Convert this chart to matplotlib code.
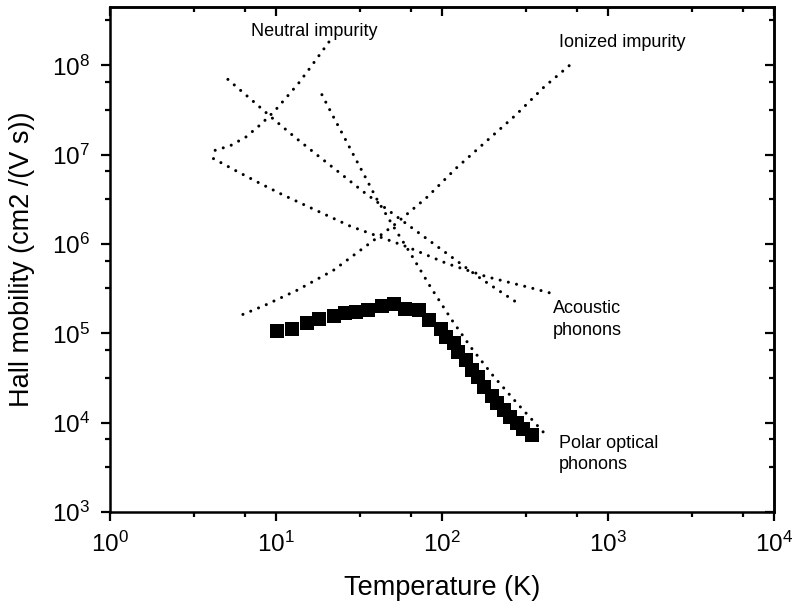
import numpy as np
import matplotlib
matplotlib.use("Agg")
from matplotlib import pyplot as plt
from matplotlib.ticker import LogLocator, NullFormatter

plt.rcParams['font.family'] = ['Liberation Sans', 'DejaVu Sans']

# measured Hall mobility
temp = [10.1, 12.5, 15.4, 18.1, 22.5, 26.2, 30.5, 35.9, 43.6, 51.2,
        60.2, 72.4, 83.3, 98, 105, 118, 124, 139, 151, 164,
        179, 199, 213, 236, 257, 281, 309, 350]
mob = [1.07e5, 1.11e5, 1.29e5, 1.43e5, 1.56e5, 1.67e5, 1.74e5, 1.82e5, 2.02e5, 2.12e5,
       1.85e5, 1.82e5, 1.41e5, 1.13e5, 9.0e4, 7.7e4, 6.2e4, 5.0e4, 3.9e4, 3.26e4,
       2.48e4, 2.0e4, 1.64e4, 1.38e4, 1.16e4, 9.97e3, 8.6e3, 7.3e3]

# scattering-limited components (dotted curves)
neutral_T = [4.30, 5.30, 6.59, 8.11, 9.89, 11.7, 13.7, 15.9, 21.2]
neutral_mu = [1.12e7, 1.26e7, 1.58e7, 2.19e7, 3.14e7, 4.50e7, 6.34e7, 9.18e7, 1.91e8]

lower_T = [4.20, 5.76, 7.93, 10.9, 16.5, 28.1, 61.7, 107, 187, 326, 462]
lower_mu = [9.04e6, 6.58e6, 4.82e6, 3.58e6, 2.50e6, 1.58e6, 9.29e5, 6.05e5, 4.29e5, 3.31e5, 2.79e5]

acoustic_T = [5.13, 7.06, 9.59, 13.1, 18.1, 24.8, 33.7, 62.8, 107, 171, 298]
acoustic_mu = [6.97e7, 4.17e7, 2.53e7, 1.55e7, 9.59e6, 6.04e6, 3.83e6, 1.62e6, 7.83e5, 4.11e5, 2.07e5]

polar_T = [18.9, 22.2, 25.9, 30.1, 34.9, 40.6, 51.2, 64.6, 85.2, 114, 150, 204, 284, 411]
polar_mu = [4.70e7, 2.64e7, 1.54e7, 9.04e6, 5.40e6, 3.15e6, 1.55e6, 7.83e5, 3.31e5,
            1.43e5, 6.89e4, 3.32e4, 1.64e4, 7.71e3]

ionized_T = [6.32, 8.61, 13.4, 22.2, 35.4, 51.2, 81.5, 121, 183, 277, 411, 601]
ionized_mu = [1.63e5, 2.07e5, 3.04e5, 5.09e5, 9.70e5, 1.62e6, 3.36e6, 7.0e6,
              1.39e7, 2.76e7, 5.71e7, 1.04e8]

fig = plt.figure(figsize=(7.96, 6.06), dpi=100)
ax = fig.add_axes([0.1382, 0.1551, 0.8342, 0.8333])

dot = dict(color='k', lw=2.2, linestyle=(0, (0.01, 2.75)), dash_capstyle='round')
for xs, ys in [(neutral_T, neutral_mu), (lower_T, lower_mu), (acoustic_T, acoustic_mu),
               (polar_T, polar_mu), (ionized_T, ionized_mu)]:
    ax.plot(xs, ys, **dot)

ax.plot(temp, mob, 's', color='k', markersize=9.5, markeredgewidth=0)

ax.set_xscale('log')
ax.set_yscale('log')
ax.set_xlim(1, 1e4)
ax.set_ylim(1e3, 4.5e8)

ax.set_xlabel('Temperature (K)', fontsize=19.5, labelpad=13)
ax.set_ylabel('Hall mobility (cm2 /(V s))', fontsize=19.5, labelpad=12)

minor_subs = (3.2, 6.5)
for a in (ax.xaxis, ax.yaxis):
    a.set_major_locator(LogLocator(base=10, numticks=20))
    a.set_minor_locator(LogLocator(base=10, subs=minor_subs, numticks=20))
    a.set_minor_formatter(NullFormatter())

ax.tick_params(which='both', direction='out', top=False, right=False, width=1.6, labelsize=17.5)
ax.tick_params(which='major', length=6.5, pad=8)
ax.tick_params(which='minor', length=3.5)

sx = ax.secondary_xaxis('top')
sy = ax.secondary_yaxis('right')
for s, a in [(sx, sx.xaxis), (sy, sy.yaxis)]:
    a.set_major_locator(LogLocator(base=10, numticks=20))
    a.set_minor_locator(LogLocator(base=10, subs=minor_subs, numticks=20))
    a.set_minor_formatter(NullFormatter())
    s.tick_params(which='both', direction='in', width=1.6, labeltop=False, labelright=False)
    s.tick_params(which='major', length=6.5)
    s.tick_params(which='minor', length=3.5)
    for sp in s.spines.values():
        sp.set_linewidth(1.8)

for sp in ax.spines.values():
    sp.set_linewidth(1.8)

fs = 13
ax.text(17.0, 2.4e8, 'Neutral impurity', fontsize=fs, ha='center', va='center')
ax.text(1211, 1.81e8, 'Ionized impurity', fontsize=fs, ha='center', va='center')
ax.text(464, 2.35e5, 'Acoustic\nphonons', fontsize=fs, ha='left', va='top', linespacing=1.35)
ax.text(505, 7.26e3, 'Polar optical\nphonons', fontsize=fs, ha='left', va='top', linespacing=1.3)

fig.savefig('out.png', dpi=100)
